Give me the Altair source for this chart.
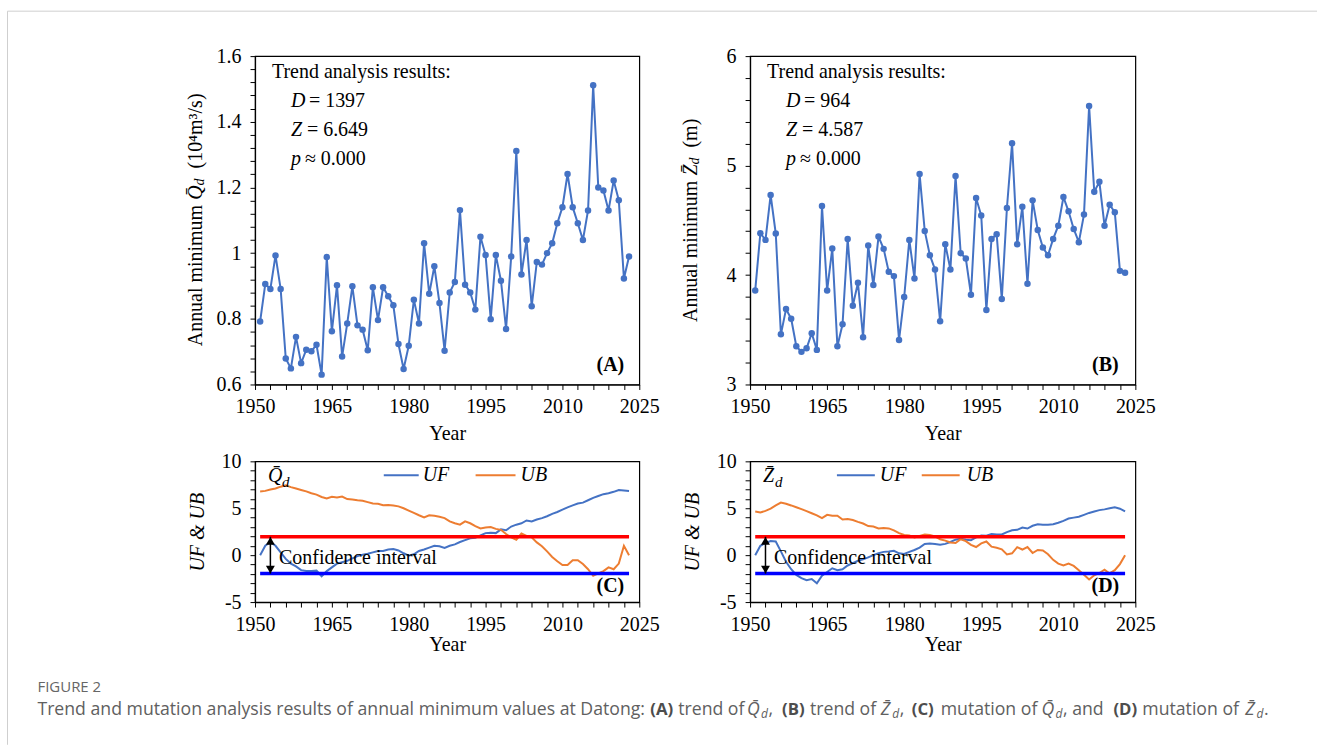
import altair as alt
import pandas as pd

# ---------------- data ----------------
years = list(range(1951, 2024))

q_min = [0.792, 0.906, 0.891, 0.993, 0.891, 0.679, 0.649, 0.745, 0.665, 0.706,
         0.701, 0.721, 0.630, 0.988, 0.762, 0.902, 0.685, 0.786, 0.899, 0.780,
         0.767, 0.704, 0.896, 0.796, 0.896, 0.869, 0.841, 0.723, 0.647, 0.718,
         0.858, 0.786, 1.030, 0.876, 0.960, 0.848, 0.703, 0.880, 0.912, 1.131,
         0.904, 0.880, 0.828, 1.050, 0.994, 0.799, 0.994, 0.916, 0.769, 0.990,
         1.311, 0.935, 1.040, 0.838, 0.973, 0.965, 1.000, 1.030, 1.091, 1.140,
         1.241, 1.140, 1.091, 1.040, 1.130, 1.511, 1.200, 1.191, 1.130, 1.221,
         1.161, 0.923, 0.990]

z_min = [3.859, 4.382, 4.321, 4.731, 4.379, 3.458, 3.689, 3.601, 3.349, 3.298,
         3.331, 3.468, 3.316, 4.630, 3.859, 4.242, 3.349, 3.550, 4.330, 3.720,
         3.929, 3.431, 4.269, 3.908, 4.351, 4.239, 4.029, 3.990, 3.407, 3.799,
         4.321, 3.969, 4.922, 4.403, 4.181, 4.051, 3.577, 4.281, 4.051, 4.904,
         4.199, 4.151, 3.820, 4.704, 4.543, 3.680, 4.330, 4.373, 3.780, 4.612,
         5.204, 4.281, 4.624, 3.920, 4.682, 4.412, 4.251, 4.181, 4.330, 4.451,
         4.712, 4.582, 4.421, 4.300, 4.552, 5.544, 4.761, 4.852, 4.451, 4.642,
         4.573, 4.038, 4.020]

uf_q = [0.0, 1.0, 1.4, 1.0, 0.3, -0.4, -0.9, -1.2, -1.6, -1.7,
        -1.7, -1.65, -2.25, -1.7, -1.3, -0.9, -0.75, -0.6, -0.35, -0.1,
        0.05, 0.15, 0.3, 0.45, 0.45, 0.6, 0.65, 0.5, 0.2, -0.05,
        0.1, 0.45, 0.6, 0.8, 1.0, 0.95, 0.78, 1.0, 1.15, 1.4,
        1.6, 1.8, 1.85, 2.1, 2.35, 2.4, 2.35, 2.75, 2.65, 3.05,
        3.25, 3.4, 3.7, 3.6, 3.8, 3.95, 4.15, 4.4, 4.6, 4.85,
        5.1, 5.3, 5.5, 5.6, 5.85, 6.1, 6.3, 6.5, 6.6, 6.75,
        6.95, 6.9, 6.85]

ub_q = [6.78, 6.85, 7.0, 7.1, 7.3, 7.45, 7.25, 7.1, 6.95, 6.8,
        6.6, 6.45, 6.2, 6.05, 6.22, 6.15, 6.25, 5.98, 5.92, 5.85,
        5.8, 5.65, 5.5, 5.48, 5.32, 5.35, 5.3, 5.2, 5.0, 4.75,
        4.5, 4.25, 4.02, 4.25, 4.2, 4.1, 3.95, 3.6, 3.4, 3.25,
        3.6, 3.4, 3.1, 2.85, 2.95, 3.0, 2.8, 2.7, 2.25, 1.9,
        1.65, 2.3, 2.05, 1.9, 1.36, 0.95, 0.4, -0.2, -0.65, -1.05,
        -1.05, -0.55, -0.55, -0.95, -1.5, -2.2, -1.95, -1.7, -1.3, -1.5,
        -0.9, 1.0, 0.0]

uf_z = [0.0, 1.0, 1.3, 1.5, 1.45, 0.4, -0.7, -1.5, -2.1, -2.45,
        -2.66, -2.55, -3.0, -2.2, -1.8, -1.4, -1.6, -1.5, -1.1, -0.85,
        -0.6, -0.45, -0.23, 0.0, 0.2, 0.35, 0.4, 0.47, 0.2, 0.12,
        0.35, 0.55, 0.8, 1.2, 1.25, 1.2, 1.1, 1.2, 1.4, 1.65,
        1.75, 1.65, 1.6, 1.9, 2.1, 2.07, 2.25, 2.2, 2.2, 2.45,
        2.65, 2.7, 2.95, 2.84, 3.13, 3.3, 3.23, 3.23, 3.3, 3.45,
        3.65, 3.9, 4.0, 4.1, 4.3, 4.5, 4.66, 4.8, 4.88, 5.0,
        5.1, 4.95, 4.66]

ub_z = [4.65, 4.55, 4.72, 4.95, 5.3, 5.6, 5.48, 5.3, 5.1, 4.9,
        4.7, 4.47, 4.25, 3.94, 4.3, 4.19, 4.2, 3.8, 3.85, 3.75,
        3.55, 3.37, 3.1, 3.05, 2.85, 2.9, 2.85, 2.65, 2.35, 2.15,
        2.1, 1.9, 2.05, 2.2, 2.15, 2.0, 1.7, 1.55, 1.35, 1.3,
        1.7, 1.5, 1.1, 0.87, 1.25, 1.46, 0.9, 0.78, 0.62, 0.08,
        0.2, 0.85, 0.6, 0.87, 0.23, 0.55, 0.5, 0.1, -0.5, -0.9,
        -1.1, -0.9, -1.15, -1.6, -2.1, -2.6, -2.15, -1.9, -1.55, -1.95,
        -1.6, -0.95, 0.0]

ci_upper = 1.96
ci_lower = -1.96
arrow_year = 1953

x_ticks = list(range(1950, 2026, 3))
q_ticks = [round(0.6 + 0.04 * i, 2) for i in range(26)]
z_ticks = [round(3 + 0.2 * i, 1) for i in range(16)]
u_ticks = list(range(-5, 11))

SERIF = "Liberation Serif"
SANS = "Open Sans"
BLUE = "#4472C4"
ORANGE = "#ED7D31"

W_L, W_R = 385, 386
H_TOP, H_BOT = 329, 141


def axis(**kw):
    return alt.Axis(grid=False, domainColor="black", domainWidth=1.2,
                    tickColor="black", tickWidth=1, tickSize=5,
                    labelFont=SERIF, labelFontSize=20, labelColor="black",
                    labelFlush=False, labelOverlap=False,
                    titleFont=SERIF, titleFontSize=20, titleFontWeight="normal",
                    titleColor="black", **kw)


def x_enc(title_y):
    return alt.X("year:Q", scale=alt.Scale(domain=[1950, 2025], nice=False, zero=False),
                 axis=axis(values=x_ticks,
                           labelExpr="datum.value % 15 === 0 ? '' + datum.value : ''",
                           labelPadding=7, title="Year", titleY=title_y,
                           titleBaseline="middle"))


def y_enc(domain, ticks, expr, title=None, height=0):
    if title:
        ax = axis(values=ticks, labelExpr=expr, labelPadding=9, title=title,
                  titleX=-58, titleY=height / 2, titleAngle=270,
                  titleBaseline="middle", titleAlign="center", titleFontStyle="italic")
    else:
        ax = axis(values=ticks, labelExpr=expr, labelPadding=9, title=None)
    return alt.Y("value:Q", scale=alt.Scale(domain=domain, nice=False, zero=False), axis=ax)


def note(text, x, y, size=20, font=SERIF, style="normal", weight="normal",
         align="left", baseline="middle", angle=0, color="black"):
    return alt.Chart(pd.DataFrame({"t": [text]})).mark_text(
        align=align, baseline=baseline, font=font, fontSize=size,
        fontStyle=style, fontWeight=weight, angle=angle, color=color
    ).encode(text="t:N", x=alt.value(x), y=alt.value(y))


def seg(x1, x2, y1, y2, color, width):
    return alt.Chart(pd.DataFrame({"k": [0]})).mark_rule(
        color=color, strokeWidth=width
    ).encode(x=alt.value(x1), x2=alt.value(x2), y=alt.value(y1), y2=alt.value(y2))


def trend_panel(values, domain, ticks, expr, stats, title_parts, label, width):
    df = pd.DataFrame({"year": years, "value": values})
    xe = x_enc(49)
    ye = y_enc(domain, ticks, expr)
    layers = [
        alt.Chart(df).mark_line(color=BLUE, strokeWidth=2).encode(x=xe, y=ye),
        alt.Chart(df).mark_circle(color=BLUE, size=42, opacity=1).encode(x=xe, y=ye),
        note("Trend analysis results:", 17, 16),
        note("D", 36, 45, style="italic"),
        note("= " + stats[0], 54, 45),
        note("Z", 36, 74, style="italic"),
        note("= " + stats[1], 52, 74),
        note("p", 36, 103, style="italic"),
        note("\u2248 " + stats[2], 50, 103),
        note(label, 356, 309, weight="bold", align="center"),
    ]
    # rotated y-axis title assembled from pieces
    for text, y, style, size, dx in title_parts:
        layers.append(note(text, -59 + dx, y, size=size, style=style, angle=270))
    return alt.layer(*layers).properties(width=width, height=H_TOP)


def mk_panel(uf, ub, sym, sub_x, legend_pos, label, width, extra=()):
    dfu = pd.DataFrame({"year": years, "value": uf})
    dfb = pd.DataFrame({"year": years, "value": ub})
    xe = x_enc(43)
    ye = y_enc([-5, 10], u_ticks, "datum.value % 5 === 0 ? '' + datum.value : ''",
               title="UF & UB", height=H_BOT)
    df_hi = pd.DataFrame({"year": [years[0]], "year2": [years[-1]], "value": [ci_upper]})
    df_lo = pd.DataFrame({"year": [years[0]], "year2": [years[-1]], "value": [ci_lower]})
    df_ar = pd.DataFrame({"year": [arrow_year], "value": [ci_upper], "value2": [ci_lower]})
    df_top = pd.DataFrame({"year": [arrow_year], "value": [ci_upper]})
    df_bot = pd.DataFrame({"year": [arrow_year], "value": [ci_lower]})
    bx1, bx2, tb, ox1, ox2, to = legend_pos
    layers = [
        alt.Chart(dfu).mark_line(color=BLUE, strokeWidth=2).encode(x=xe, y=ye),
        alt.Chart(dfb).mark_line(color=ORANGE, strokeWidth=2).encode(x=xe, y=ye),
        alt.Chart(df_hi).mark_rule(color="#FF0000", strokeWidth=3.5).encode(x=xe, x2="year2:Q", y=ye),
        alt.Chart(df_lo).mark_rule(color="#0000FF", strokeWidth=3.5).encode(x=xe, x2="year2:Q", y=ye),
        alt.Chart(df_ar).mark_rule(color="black", strokeWidth=1.5).encode(x=xe, y=ye, y2="value2:Q"),
        alt.Chart(df_top).mark_point(shape="triangle-up", filled=True, color="black",
                                     size=80, opacity=1, yOffset=4).encode(x=xe, y=ye),
        alt.Chart(df_bot).mark_point(shape="triangle-down", filled=True, color="black",
                                     size=80, opacity=1, yOffset=-4).encode(x=xe, y=ye),
        note("Confidence interval", 24, 97),
        note(sym, 13, 15, style="italic"),
        note("d", sub_x, 21, size=15, style="italic"),
        seg(bx1, bx2, 14, 14, BLUE, 2),
        note("UF", tb, 14, style="italic"),
        seg(ox1, ox2, 14, 14, ORANGE, 2),
        note("UB", to, 14, style="italic"),
        note(label, 356, 125, weight="bold", align="center"),
    ]
    layers.extend(extra)
    return alt.layer(*layers).properties(width=width, height=H_BOT)


Q = "Q\u0304"
Z = "Z\u0304"

panel_a = trend_panel(
    q_min, [0.6, 1.6], q_ticks,
    "abs(datum.value * 5 - round(datum.value * 5)) < 0.001 ? '' + datum.value : ''",
    ["1397", "6.649", "0.000"],
    [("Annual minimum", 290.7, "normal", 20, 0),
     (Q, 144.0, "italic", 20, 0),
     ("d", 129.6, "italic", 14, 4),
     ("(10\u2074m\u00b3/s)", 112.6, "normal", 20, 0)],
    "(A)", W_L)

# page frame lines (relative to panel A origin), kept inside the 1319x745 page
panel_a = alt.layer(
    panel_a,
    seg(-248, 1064, -45, -45, "#cfcfcf", 1),
    seg(-248, -248, -45, 690, "#cfcfcf", 1),
)

panel_b = trend_panel(
    z_min, [3, 6], z_ticks,
    "datum.value % 1 === 0 ? '' + datum.value : ''",
    ["964", "4.587", "0.000"],
    [("Annual minimum", 266.4, "normal", 20, 0),
     (Z, 119.7, "italic", 20, 0),
     ("d", 108.6, "italic", 14, 4),
     ("(m)", 91.6, "normal", 20, 0)],
    "(B)", W_R)

# caption (relative to panel C origin)
CAP_Y = 249
CS = 17.7
BS = 16.8
cap_color = "#606060"
bold_color = "#4d4d4d"
OX = 254
caption = [
    note("FIGURE 2", 36 - OX, 226, size=15, font=SANS, color="#666666"),
    note("Trend and mutation analysis results of annual minimum values at Datong:", 36 - OX, CAP_Y, size=CS, font=SANS, color=cap_color),
    note("(A)", 650 - OX, CAP_Y, size=BS, font=SANS, weight="bold", color=bold_color),
    note("trend of", 678 - OX, CAP_Y, size=CS, font=SANS, color=cap_color),
    note(Q, 747 - OX, CAP_Y, size=CS, font=SANS, style="italic", color=cap_color),
    note("d", 761 - OX, CAP_Y + 4, size=12, font=SANS, style="italic", color=cap_color),
    note(",", 768.5 - OX, CAP_Y, size=CS, font=SANS, color=cap_color),
    note("(B)", 782 - OX, CAP_Y, size=BS, font=SANS, weight="bold", color=bold_color),
    note("trend of", 810 - OX, CAP_Y, size=CS, font=SANS, color=cap_color),
    note(Z, 881 - OX, CAP_Y, size=CS, font=SANS, style="italic", color=cap_color),
    note("d", 892.5 - OX, CAP_Y + 4, size=12, font=SANS, style="italic", color=cap_color),
    note(",", 900 - OX, CAP_Y, size=CS, font=SANS, color=cap_color),
    note("(C)", 912 - OX, CAP_Y, size=BS, font=SANS, weight="bold", color=bold_color),
    note("mutation of", 941 - OX, CAP_Y, size=CS, font=SANS, color=cap_color),
    note(Q, 1042 - OX, CAP_Y, size=CS, font=SANS, style="italic", color=cap_color),
    note("d", 1056 - OX, CAP_Y + 4, size=12, font=SANS, style="italic", color=cap_color),
    note(", and", 1063.5 - OX, CAP_Y, size=CS, font=SANS, color=cap_color),
    note("(D)", 1114 - OX, CAP_Y, size=BS, font=SANS, weight="bold", color=bold_color),
    note("mutation of", 1143 - OX, CAP_Y, size=CS, font=SANS, color=cap_color),
    note(Z, 1246 - OX, CAP_Y, size=CS, font=SANS, style="italic", color=cap_color),
    note("d", 1257.5 - OX, CAP_Y + 4, size=12, font=SANS, style="italic", color=cap_color),
    note(".", 1265 - OX, CAP_Y, size=CS, font=SANS, color=cap_color),
]

panel_c = mk_panel(uf_q, ub_q, Q, 27, (129, 164, 168, 221, 261, 266), "(C)", W_L, caption)
panel_d = mk_panel(uf_z, ub_z, Z, 25, (87, 125, 130, 172, 210, 217), "(D)", W_R)

chart = alt.concat(
    panel_a, panel_b, panel_c, panel_d,
    columns=2,
    spacing=alt.RowColnumber(row=77, column=111),
    bounds="flush",
    align="each",
).properties(
    padding={"left": 5.5, "top": 8.5, "right": 0, "bottom": 0},
    background="white",
).configure_view(stroke="black", strokeWidth=1.2)

chart.save("out.html", embed_options={"renderer": "svg", "actions": False})
